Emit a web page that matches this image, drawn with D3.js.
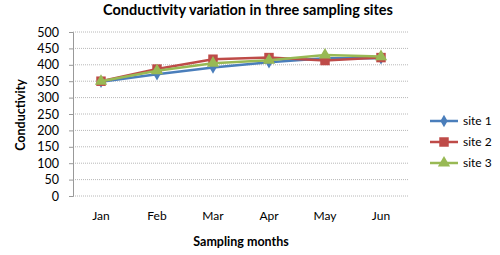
<!DOCTYPE html>
<html>
<head>
<meta charset="utf-8">
<script src="https://cdn.jsdelivr.net/npm/d3@7"></script>
<style>
  body { margin: 0; background: #fff; }
  text { font-family: Lato, "Open Sans", sans-serif; }
</style>
</head>
<body>
<div id="chart"></div>
<script>
var months = ["Jan", "Feb", "Mar", "Apr", "May", "Jun"];
var site1 = [348, 371, 392, 408, 420, 420];
var site2 = [350, 387, 417, 422, 413, 422];
var site3 = [350, 382, 405, 414, 430, 425];
var seriesNames = ["site 1", "site 2", "site 3"];
var seriesColors = ["#4a7ebb", "#be4b48", "#98b954"];
var yTicks = d3.range(0, 501, 50);

var width = 500, height = 255;
var margin = { top: 32, right: 91, bottom: 59, left: 73 };
var innerW = width - margin.left - margin.right;
var innerH = height - margin.top - margin.bottom;

var svg = d3.select("#chart").append("svg")
    .attr("width", width)
    .attr("height", height);

var g = svg.append("g")
    .attr("transform", "translate(" + margin.left + "," + margin.top + ")");

var x = d3.scaleBand().domain(months).range([0, innerW]);
var y = d3.scaleLinear().domain([0, 500]).range([innerH, 0]);

// gridlines
g.selectAll("line.grid")
    .data(yTicks)
    .enter().append("line")
    .attr("class", "grid")
    .attr("x1", 0).attr("x2", innerW)
    .attr("y1", function(d) { return y(d); })
    .attr("y2", function(d) { return y(d); })
    .style("stroke", "#b8b8b8")
    .style("stroke-width", 1)
    .style("stroke-dasharray", "1,1");

// y axis
var yAxis = g.append("g")
    .call(d3.axisLeft(y).tickValues(yTicks).tickSize(4).tickPadding(10));
yAxis.select(".domain").style("stroke", "#999");
yAxis.selectAll(".tick line").style("stroke", "#999");
yAxis.selectAll("text")
    .style("font-family", "Lato, 'Open Sans', sans-serif")
    .style("font-size", "12.5px")
    .style("fill", "#000");

// x labels
var xAxis = g.append("g")
    .attr("transform", "translate(0," + innerH + ")")
    .call(d3.axisBottom(x).tickSize(0).tickPadding(15));
xAxis.select(".domain").remove();
xAxis.selectAll("text")
    .style("font-family", "Lato, 'Open Sans', sans-serif")
    .style("font-size", "12px")
    .style("fill", "#000");

var data = [site1, site2, site3];
var line = d3.line()
    .x(function(d, i) { return x(months[i]) + x.bandwidth() / 2; })
    .y(function(d) { return y(d); });

var symbols = [d3.symbolDiamond, d3.symbolSquare, d3.symbolTriangle];
var symbolSizes = [45, 90, 65];

data.forEach(function(vals, k) {
    g.append("path")
        .datum(vals)
        .attr("d", line)
        .style("fill", "none")
        .style("stroke", seriesColors[k])
        .style("stroke-width", 2.5);

    g.selectAll("path.pt" + k)
        .data(vals)
        .enter().append("path")
        .attr("class", "pt" + k)
        .attr("transform", function(d, i) {
            return "translate(" + (x(months[i]) + x.bandwidth() / 2) + "," + y(d) + ")";
        })
        .attr("d", d3.symbol().type(symbols[k]).size(symbolSizes[k]))
        .style("fill", seriesColors[k]);
});

// legend
var legend = svg.append("g")
    .attr("transform", "translate(430,121)");
seriesNames.forEach(function(name, k) {
    var row = legend.append("g").attr("transform", "translate(0," + (k * 21) + ")");
    row.append("line")
        .attr("x1", 0).attr("x2", 28)
        .style("stroke", seriesColors[k])
        .style("stroke-width", 2.5);
    row.append("path")
        .attr("transform", "translate(14,0)")
        .attr("d", d3.symbol().type(symbols[k]).size(symbolSizes[k]))
        .style("fill", seriesColors[k]);
    row.append("text")
        .attr("x", 33).attr("dy", "0.35em")
        .style("font-size", "12px")
        .text(name);
});

// titles
svg.append("text")
    .attr("x", 248).attr("y", 15)
    .attr("text-anchor", "middle")
    .style("font-weight", "bold")
    .style("font-size", "14.5px")
    .text("Conductivity variation in three sampling sites");

svg.append("text")
    .attr("x", 241).attr("y", 246)
    .attr("text-anchor", "middle")
    .style("font-weight", "bold")
    .style("font-size", "12.5px")
    .text("Sampling months");

svg.append("text")
    .attr("transform", "translate(25,115) rotate(-90)")
    .attr("text-anchor", "middle")
    .style("font-weight", "bold")
    .style("font-size", "12.5px")
    .text("Conductivity");
</script>
</body>
</html>
